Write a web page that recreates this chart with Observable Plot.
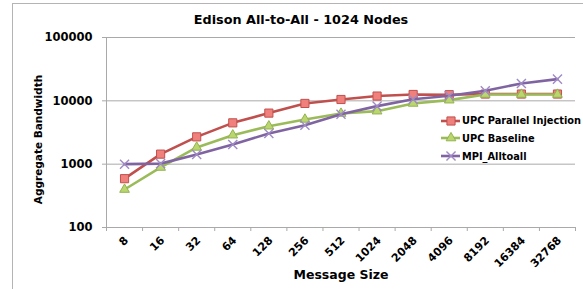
<!DOCTYPE html>
<html>
<head>
<meta charset="utf-8">
<script src="https://cdn.jsdelivr.net/npm/d3@7"></script>
<script src="https://cdn.jsdelivr.net/npm/@observablehq/plot@0.6"></script>
<style>
  html, body { margin: 0; padding: 0; background: #fff; }
  #chart { position: relative; width: 583px; height: 289px; overflow: hidden; background: #fff; }
  #border { position: absolute; left: 12px; top: 3px; width: 700px; height: 400px;
            border-left: 1px solid #b4b4b4; border-top: 1px solid #b4b4b4; pointer-events: none; }
  #legend { position: absolute; left: 441px; top: 112px; font-family: "DejaVu Sans", sans-serif;
            font-weight: bold; font-size: 9.8px; color: #000; }
  .item { position: absolute; left: 0; height: 12px; white-space: nowrap; display: flex; align-items: center; }
  .item svg { display: block; margin-right: 1px; }
</style>
</head>
<body>
<div id="chart"><div id="border"></div><div id="legend"></div></div>
<script>
// ---- data ----
const sizes = ["8", "16", "32", "64", "128", "256", "512", "1024", "2048", "4096", "8192", "16384", "32768"];
const upcParallel = [590, 1440, 2700, 4490, 6400, 9100, 10500, 11900, 12600, 12500, 12800, 12800, 12800];
const upcBaseline = [398, 887, 1840, 2870, 3980, 5090, 6310, 6870, 9100, 10250, 12600, 12600, 12600];
const mpiAlltoall = [1000, 1020, 1420, 2050, 3050, 4130, 6150, 8250, 10600, 12000, 14400, 18800, 22000];
const yTicks = [100, 1000, 10000, 100000];
const seriesNames = ["UPC Parallel Injection", "UPC Baseline", "MPI_Alltoall"];
const title = "Edison All-to-All - 1024 Nodes";
const xLabel = "Message Size";
const yLabel = "Aggregate Bandwidth";

// ---- styles ----
const styles = [
  {line: "#c0504d", symbol: "square", r: 4.6, fill: "#f0807c", stroke: "#c0504d", sw: 1},
  {line: "#9bbb59", symbol: "triangle", r: 3.6, fill: "#b9d66f", stroke: "#93b350", sw: 1},
  {line: "#8064a2", symbol: "times", r: 4.2, fill: "none", stroke: "#a08ac4", sw: 1.4}
];
const values = [upcParallel, upcBaseline, mpiAlltoall];
const series = values.map((vals, s) => vals.map((v, i) => ({i, v, s})));
const idx = sizes.map((d, i) => i);
const bounds = idx.concat([sizes.length]).map(i => i - 0.5);
const gridColor = "#a9a9a9";

const marks = [
  Plot.ruleY(yTicks, {stroke: gridColor, strokeWidth: 1}),
  Plot.ruleX([bounds[0]], {stroke: gridColor, strokeWidth: 1}),
  Plot.axisY(yTicks, {tickSize: 4, tickPadding: 10, stroke: gridColor, fill: "#000", tickFormat: d => String(d),
                      label: null, fontSize: 11.5, fontWeight: "bold"}),
  Plot.axisX(bounds, {tickSize: 4, stroke: gridColor, tickFormat: () => "", label: null}),
  Plot.axisX(idx, {tickSize: 0, tickPadding: 11, tickRotate: -45, dx: 2, tickFormat: i => sizes[i], label: null,
                   fill: "#000", fontSize: 11, fontWeight: "bold"}),
  Plot.text([title], {frameAnchor: "top", dx: -40, dy: -18, fontSize: 12.8, fontWeight: "bold",
                      textAnchor: "middle", lineAnchor: "middle"}),
  Plot.text([xLabel], {frameAnchor: "bottom", dy: 47, fontSize: 12.5, fontWeight: "bold",
                       textAnchor: "middle", lineAnchor: "middle"}),
  Plot.text([yLabel], {frameAnchor: "left", dx: -68, dy: 7, rotate: -90, fontSize: 10.5, fontWeight: "bold",
                       textAnchor: "middle", lineAnchor: "middle"})
];
series.forEach((data, s) => {
  const st = styles[s];
  marks.push(Plot.line(data, {x: "i", y: "v", stroke: st.line, strokeWidth: 2.6}));
  marks.push(Plot.dot(data, {x: "i", y: "v", symbol: () => st.symbol, r: st.r, fill: st.fill, stroke: st.stroke, strokeWidth: st.sw}));
});

const chart = Plot.plot({
  width: 583,
  height: 289,
  marginLeft: 106,
  marginRight: 8,
  marginTop: 37,
  marginBottom: 62,
  style: {fontFamily: "DejaVu Sans, sans-serif", fontWeight: "bold", color: "#000", background: "transparent", overflow: "visible"},
  x: {type: "linear", domain: [bounds[0], bounds[bounds.length - 1]], axis: null},
  y: {type: "log", domain: [yTicks[0], yTicks[yTicks.length - 1]], axis: null},
  symbol: {type: "identity"},
  marks
});
chart.style.position = "absolute";
chart.style.left = "0px";
chart.style.top = "0px";
document.getElementById("chart").appendChild(chart);

// ---- legend ----
const legend = d3.select("#legend");
seriesNames.forEach((name, s) => {
  const st = styles[s];
  const item = legend.append("div").attr("class", "item").style("top", (s * 17.7 + 2.7) + "px");
  const svg = item.append("svg").attr("width", 20).attr("height", 12);
  svg.append("line").attr("x1", 0).attr("x2", 19).attr("y1", 6).attr("y2", 6)
     .attr("stroke", st.line).attr("stroke-width", 2.6);
  const sym = {square: d3.symbolSquare, triangle: d3.symbolTriangle, times: d3.symbolTimes}[st.symbol];
  svg.append("path").attr("transform", "translate(10,6)")
     .attr("d", d3.symbol(sym, Math.PI * st.r * st.r)())
     .attr("fill", st.fill).attr("stroke", st.stroke).attr("stroke-width", st.sw);
  item.append("span").text(name);
});
</script>
</body>
</html>
